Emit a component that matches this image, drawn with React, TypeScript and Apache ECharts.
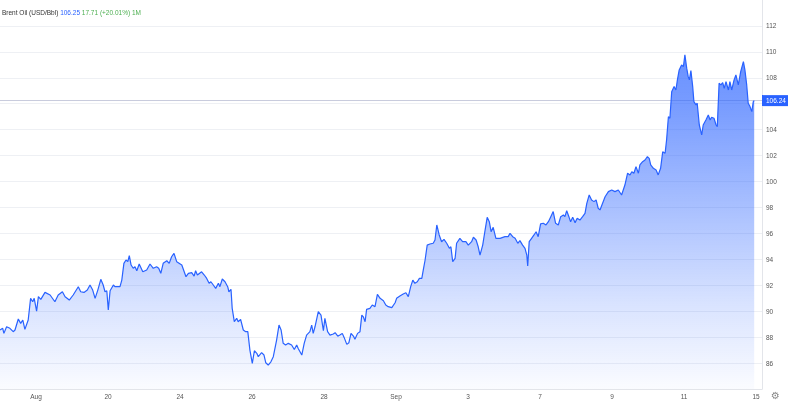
import * as echarts from "echarts";
import { useEffect, useRef } from "react";

// x position in hours, counted from the "Aug" tick; each label step is 24
const hours = [
  -12, -11.1, -10.7, -9.8, -8.7, -7.6, -7, -5.9, -5.1, -4.4, -3.7, -2.6, -1.8, -1.1, -0.6, 0.2, 0.8, 1.6, 3, 4.7,
  6.3, 7.4, 8.8, 9.7, 11.1, 12.4, 14.1, 14.9, 16, 17.1, 18, 18.9, 19.7, 20.6, 21.6, 22.4, 23, 23.6, 24.1, 24.7,
  25.8, 26.3, 28, 28.6, 29.3, 30, 30.6, 31.1, 31.7, 32.4, 33, 33.6, 34.4, 35.6, 36.9, 38, 39.1, 40.2, 40.9, 41.6,
  42.4, 43.6, 44.4, 45.2, 46, 46.9, 48.6, 50, 50.8, 51.9, 52.7, 53.2, 53.8, 55.2, 56.1, 56.9, 57.7, 58.3, 59.1, 59.9,
  60.8, 61.3, 62.1, 63, 63.9, 64.3, 65, 65.4, 66.1, 66.9, 67.4, 68.2, 69.1, 69.9, 70.6, 71.3, 72.1, 72.8, 73.6, 74.1,
  75.2, 76, 76.6, 77.4, 78.3, 79.1, 80.2, 81, 81.7, 82.4, 83.2, 84.1, 85.2, 86.1, 86.9, 87.4, 88.6, 89.4, 90.2, 91.3,
  91.9, 92.4, 93, 94.1, 95, 95.8, 96.3, 97.2, 98, 99.1, 99.7, 100.6, 101.3, 102.1, 102.7, 103.6, 104.3, 105, 105.8, 106.3,
  107.2, 108, 108.6, 109.1, 109.7, 110.2, 111.3, 112.1, 113, 113.8, 114.7, 115.8, 116.6, 117.4, 118.6, 119.7, 120.2, 121.3, 122.4, 123.3,
  124.1, 124.9, 125.6, 126.3, 127.1, 127.8, 128.6, 129.1, 129.7, 130.4, 131.3, 132.4, 133, 133.6, 134.4, 135.2, 136, 136.9, 137.8, 138.3,
  138.9, 139.7, 140.2, 141.3, 142.2, 143.3, 144.1, 145.2, 145.8, 146.7, 147.4, 148, 148.9, 149.7, 150.4, 151.1, 151.7, 152.4, 153.3, 154.7,
  156.3, 157.4, 158, 158.9, 159.7, 160.6, 161.3, 162.2, 163, 163.6, 163.9, 164.4, 165.2, 166, 166.7, 167.4, 168.2, 169.1, 170, 170.8,
  171.6, 172.4, 173.2, 174.1, 174.9, 175.8, 176.3, 176.9, 177.7, 178.2, 178.9, 179.7, 180.4, 181.3, 182.2, 183, 183.6, 184.4, 185.2, 186,
  186.7, 187.4, 188, 189.7, 190.8, 191.9, 193, 194.1, 195.2, 196.3, 197.2, 198, 198.6, 199.3, 200, 200.8, 201.3, 202.2, 203, 203.8,
  204.4, 204.9, 205.8, 206.7, 207.4, 208.2, 208.9, 209.7, 210.2, 210.8, 211.3, 211.9, 212.7, 213.3, 213.8, 214.4, 215.2, 215.8, 216.3, 216.9,
  217.4, 217.8, 218.3, 218.9, 219.3, 220, 220.4, 221.1, 221.9, 222.4, 223.3, 224.1, 224.7, 225.2, 226, 226.7, 227.1, 227.7, 228.3, 228.9,
  229.4, 230, 230.8, 231.3, 231.9, 232.7, 233.3, 234.1, 234.9, 235.8, 236.3, 236.9, 237.4, 238, 238.6, 239.1, 239.4,
];

const prices = [
  88.55, 88.68, 88.29, 88.8, 88.68, 88.42, 88.55, 89.4, 89.06, 89.32, 88.6, 89.32, 90.99, 90.73, 90.99, 90.01, 91.12, 90.91, 91.45, 91.25,
  90.73, 91.25, 91.5, 91.12, 90.86, 91.25, 91.89, 91.5, 91.45, 91.63, 92.02, 91.63, 90.99, 91.63, 92.46, 92.02, 91.5, 91.58, 90.09, 91.58,
  92.02, 91.89, 91.89, 92.4, 93.69, 93.95, 93.82, 94.28, 93.56, 93.31, 93.43, 93.12, 93.64, 93.04, 93.18, 93.64, 93.31, 93.43, 93.31, 92.92,
  93.69, 93.89, 93.69, 94.2, 94.46, 93.82, 93.56, 92.66, 92.92, 92.97, 92.71, 93.12, 92.79, 93.04, 92.79, 92.53, 92.15, 92.27, 92.02, 91.76,
  92.15, 91.89, 92.48, 92.27, 91.89, 91.5, 91.69, 90.22, 89.19, 89.45, 89.19, 89.37, 88.55, 88.42, 88.42, 87, 85.97, 86.95, 86.75, 86.49,
  86.8, 86.62, 86.02, 85.85, 86.1, 86.49, 87.77, 88.93, 88.55, 87.52, 87.39, 87.52, 87.39, 87.05, 87.39, 87.13, 86.62, 87.52, 88.16, 88.42,
  88.93, 88.29, 88.8, 89.96, 89.7, 88.49, 89.45, 88.42, 88.16, 88.24, 88.34, 88.08, 88.16, 88.29, 87.98, 87.44, 87.57, 88.29, 88.08, 87.83,
  88.29, 88.42, 89.7, 89.57, 89.19, 90.14, 90.22, 90.48, 90.35, 91.3, 90.99, 90.81, 90.48, 90.35, 90.27, 90.65, 90.99, 91.17, 91.32, 91.42,
  91.12, 91.89, 92.4, 92.15, 92.27, 92.53, 92.53, 93.18, 93.95, 95.1, 95.18, 95.24, 95.49, 96.65, 95.88, 95.36, 95.54, 95.24, 94.85, 94.97,
  93.82, 94.08, 95.24, 95.62, 95.36, 95.36, 95.1, 95.36, 95.7, 95.49, 94.97, 94.33, 95.1, 96.26, 97.24, 96.9, 96.13, 96.47, 95.62, 95.62,
  95.75, 95.75, 96.01, 95.75, 95.62, 95.24, 95.44, 95.1, 94.85, 94.33, 93.48, 95.36, 95.62, 95.88, 96.13, 95.75, 96.73, 96.78, 96.65, 96.9,
  97.29, 97.68, 96.78, 96.65, 97.29, 97.42, 97.29, 97.75, 97.24, 96.9, 97.24, 96.83, 97.16, 97.03, 97.29, 97.55, 98.32, 98.96, 98.58, 98.45,
  98.58, 97.94, 97.81, 98.83, 99.22, 99.35, 99.22, 99.35, 98.96, 99.73, 100.64, 100.51, 100.76, 100.64, 101.15, 100.64, 101.28, 101.53, 101.66, 101.92,
  101.79, 101.28, 101.02, 100.89, 100.51, 101.02, 102.3, 102.18, 103.21, 105, 104.88, 106.93, 107.32, 107.06, 107.84, 108.61, 108.99, 108.86, 109.77, 108.74,
  108.09, 107.84, 108.56, 107.32, 106.16, 105.91, 106.04, 104.36, 103.59, 104.36, 104.75, 105.14, 104.75, 104.96, 104.88, 104.36, 104.23, 107.58, 107.45, 107.63,
  107.19, 107.71, 107.06, 107.71, 107.06, 107.84, 108.22, 107.45, 108.48, 109.25, 108.61, 107.45, 106.04, 105.78, 105.39, 106.16, 106.24,
];

const tickHours = [0, 24, 48, 72, 96, 120, 144, 168, 192, 216, 240];
const tickLabels = ["Aug", "20", "24", "26", "28", "Sep", "3", "7", "9", "11", "15"];

const lastPrice = 106.24;
const blue = "#2962ff";
const axisTextColor = "#555";
const gridLineColor = "#eef0f4";
const fontFamily = "'Liberation Sans', Arial, sans-serif";

export default function App() {
  const ref = useRef<HTMLDivElement | null>(null);

  useEffect(() => {
    if (!ref.current) return;
    const chart = echarts.init(ref.current, null, { renderer: "svg" });
    const data = hours.map((h, i) => [h, prices[i]]);

    chart.setOption({
      animation: false,
      textStyle: { fontFamily },
      title: {
        left: 2,
        top: 9,
        padding: 0,
        text: "{a|Brent Oil (USD/Bbl)} {b|106.25} {c|17.71 (+20.01%) 1M}",
        textStyle: {
          fontSize: 6.5,
          fontWeight: "normal",
          rich: {
            a: { color: "#333", fontSize: 6.5, fontFamily },
            b: { color: blue, fontSize: 6.5, fontFamily },
            c: { color: "#4caf50", fontSize: 6.5, fontFamily },
          },
        },
      },
      grid: { left: 0, right: 26, top: 0, bottom: 24 },
      xAxis: {
        type: "value",
        min: -12,
        max: 242,
        splitLine: { show: false },
        axisTick: { show: false },
        axisLine: { onZero: false, lineStyle: { color: "#e3e5ea" } },
        axisLabel: {
          customValues: tickHours,
          color: axisTextColor,
          fontSize: 6.5,
          margin: 4,
          formatter: (value: number) => tickLabels[tickHours.indexOf(value)] ?? "",
        },
      },
      yAxis: {
        type: "value",
        position: "right",
        min: 84,
        max: 114,
        interval: 2,
        axisLine: { show: true, onZero: false, lineStyle: { color: "#e3e5ea" } },
        axisTick: { show: false },
        axisLabel: {
          color: axisTextColor,
          fontSize: 6.5,
          margin: 4,
          showMinLabel: false,
          showMaxLabel: false,
          // the last-price tag covers the 106 tick
          formatter: (value: number) => (value === 106 ? "" : String(value)),
        },
        splitLine: { showMinLine: false, showMaxLine: false, lineStyle: { color: gridLineColor } },
      },
      series: [
        {
          type: "line",
          data: [],
          z: 1,
          markLine: {
            silent: true,
            symbol: "none",
            z: 1,
            lineStyle: { color: "#c9ccdd", type: "solid", width: 1 },
            label: {
              position: "end",
              distance: 0,
              formatter: lastPrice.toFixed(2),
              color: "#fff",
              backgroundColor: blue,
              fontSize: 6.5,
              padding: [2, 3, 2, 4],
            },
            data: [{ yAxis: lastPrice }],
          },
        },
        {
          type: "line",
          z: 3,
          data,
          symbol: "none",
          lineStyle: { color: blue, width: 1.2 },
          areaStyle: {
            color: new echarts.graphic.LinearGradient(0, 0, 0, 1, [
              { offset: 0, color: "rgba(41, 98, 255, 1)" },
              { offset: 0.15, color: "rgba(41, 98, 255, 0.9)" },
              { offset: 0.45, color: "rgba(41, 98, 255, 0.58)" },
              { offset: 0.75, color: "rgba(41, 98, 255, 0.25)" },
              { offset: 1, color: "rgba(41, 98, 255, 0.03)" },
            ]),
          },
        },
      ],
      graphic: [
        {
          type: "text",
          left: 771,
          top: 390,
          style: { text: "⚙", fill: "#888", fontSize: 10, fontFamily: "'DejaVu Sans'" },
        },
      ],
    });

    return () => chart.dispose();
  }, []);

  return <div ref={ref} style={{ position: "fixed", left: 0, top: 0, width: 788, height: 413 }} />;
}
